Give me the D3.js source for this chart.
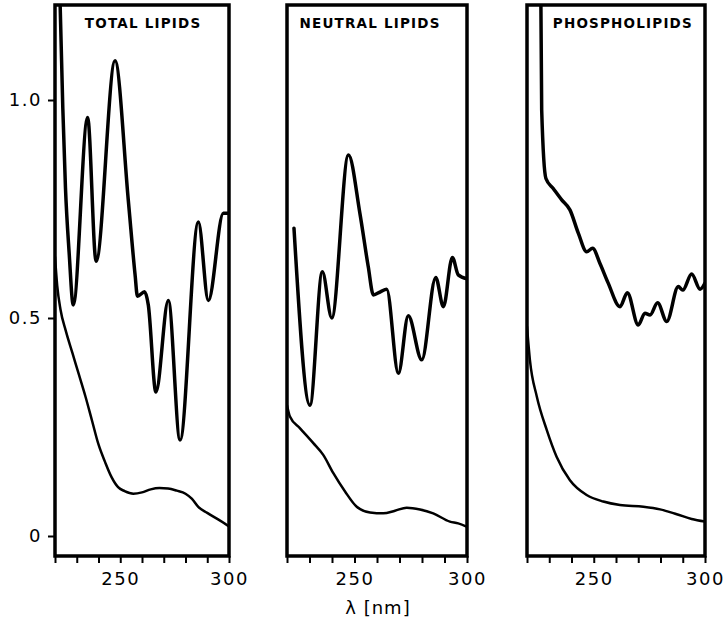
<!DOCTYPE html>
<html>
<head>
<meta charset="utf-8">
<script src="https://cdn.jsdelivr.net/npm/d3@7"></script>
<style>
  body { margin: 0; background: #fff; }
  .frame { fill: none; stroke: #000; stroke-width: 3.5; }
  .axis path { display: none; }
  .axis line { stroke: #000; stroke-width: 2; }
  .axis text { font-family: "DejaVu Sans", sans-serif; font-size: 18px; letter-spacing: 1.5px; fill: #000; }
  .upper { fill: none; stroke: #000; stroke-width: 3.5; stroke-linejoin: round; stroke-linecap: round; }
  .lower { fill: none; stroke: #000; stroke-width: 2.5; stroke-linejoin: round; stroke-linecap: round; }
  .title { font-family: "DejaVu Sans", sans-serif; font-weight: bold; font-size: 13.5px; letter-spacing: 1.2px; }
</style>
</head>
<body>
<svg width="725" height="629"></svg>
<script>
// wavelength ticks (nm), labelled ones and absorbance ticks
var wavelengthTicks = [220, 230, 240, 250, 260, 270, 280, 290, 300];
var labelledTicks = [250, 300];
var absorbanceTicks = [0, 0.5, 1.0];
var panelTitles = ["TOTAL LIPIDS", "NEUTRAL LIPIDS", "PHOSPHOLIPIDS"];

// [wavelength nm, absorbance]
var totalUpper = [[222.2, 1.25], [223.6, 0.98], [224.8, 0.80], [226.5, 0.65], [228.4, 0.53],
  [235.0, 0.96], [238.9, 0.63], [247.6, 1.09], [253.7, 0.77], [256.8, 0.60], [257.9, 0.55],
  [261.2, 0.56], [262.9, 0.53], [266.4, 0.33], [272.1, 0.54], [277.5, 0.22], [285.9, 0.72],
  [290.5, 0.54], [297.4, 0.74], [299.5, 0.74]];
var totalLower = [[220, 0.64], [221, 0.575], [222.5, 0.52], [225, 0.47], [228, 0.42], [231, 0.37],
  [234, 0.32], [237, 0.265], [240, 0.21], [243, 0.17], [246, 0.135], [249, 0.112], [252, 0.103],
  [256, 0.097], [260, 0.1], [264, 0.107], [268, 0.11], [272, 0.109], [276, 0.104], [280, 0.097],
  [283, 0.085], [286, 0.066], [290, 0.053], [295, 0.038], [300, 0.022]];

var neutralUpper = [[223.1, 0.706], [230.2, 0.30], [235.7, 0.606], [239.9, 0.50], [247.3, 0.874],
  [252.4, 0.74], [256.1, 0.618], [258.4, 0.553], [261.5, 0.56], [264.3, 0.566], [269.5, 0.373],
  [273.9, 0.505], [279.9, 0.404], [286.1, 0.593], [289.5, 0.526], [293.5, 0.639], [296.1, 0.599],
  [300, 0.59]];
var neutralLower = [[220, 0.30], [221.3, 0.274], [225.8, 0.247], [231.7, 0.213], [236.1, 0.186],
  [240.6, 0.144], [245.8, 0.102], [251.0, 0.067], [256.9, 0.054], [262.8, 0.052], [268.0, 0.058],
  [273.2, 0.065], [279.1, 0.061], [285.0, 0.052], [292.4, 0.033], [296.1, 0.029], [300, 0.021]];

var phosphoUpper = [[226.2, 1.25], [226.6, 0.977], [228.5, 0.82], [231.8, 0.797], [235.6, 0.771],
  [239.3, 0.748], [243.1, 0.694], [246.8, 0.652], [249.5, 0.66], [252.8, 0.625], [256.5, 0.58],
  [261.8, 0.526], [265.1, 0.558], [270.0, 0.484], [273.0, 0.511], [275.3, 0.507], [278.7, 0.535],
  [282.8, 0.492], [288.0, 0.572], [290.0, 0.564], [294.0, 0.601], [297.8, 0.566], [300, 0.58]];
var phosphoLower = [[220, 0.48], [221.3, 0.404], [224.4, 0.32], [228.9, 0.243], [233.3, 0.182],
  [239.3, 0.128], [246.8, 0.094], [254.3, 0.079], [261.8, 0.071], [272.3, 0.067], [279.8, 0.061],
  [287.3, 0.05], [294.0, 0.039], [300, 0.033]];

var svg = d3.select("svg"),
    plotTop = 5,
    plotBottom = 556,
    panelLeft = [55, 287, 527],
    panelRight = [229, 467, 705],
    titleAt = [260.5, 256.9, 263.1];

var y = d3.scaleLinear().domain([0, 1]).range([536, 100]);

var series = [[totalUpper, totalLower], [neutralUpper, neutralLower], [phosphoUpper, phosphoLower]];

var defs = svg.append("defs");

series.forEach(function(pair, i) {
  var x = d3.scaleLinear().domain([220, 300]).range([panelLeft[i], panelRight[i]]);

  defs.append("clipPath")
    .attr("id", "clip" + i)
    .append("rect")
    .attr("x", x.range()[0])
    .attr("y", plotTop)
    .attr("width", x.range()[1] - x.range()[0])
    .attr("height", plotBottom - plotTop);

  var line = d3.line()
    .curve(d3.curveMonotoneX)
    .x(function(d) { return x(d[0]); })
    .y(function(d) { return y(d[1]); });

  var g = svg.append("g");

  g.append("path")
    .attr("class", "upper")
    .attr("clip-path", "url(#clip" + i + ")")
    .attr("d", line(pair[0]));

  g.append("path")
    .attr("class", "lower")
    .attr("clip-path", "url(#clip" + i + ")")
    .attr("d", line(pair[1]));

  g.append("rect")
    .attr("class", "frame")
    .attr("x", x.range()[0])
    .attr("y", plotTop)
    .attr("width", x.range()[1] - x.range()[0])
    .attr("height", plotBottom - plotTop);

  g.append("g")
    .attr("class", "axis")
    .attr("transform", "translate(0," + plotBottom + ")")
    .call(d3.axisBottom(x)
      .tickValues(wavelengthTicks)
      .tickSize(7)
      .tickPadding(9)
      .tickFormat(function(d) { return labelledTicks.indexOf(d) >= 0 ? d : ""; }));

  g.append("text")
    .attr("class", "title")
    .attr("x", x(titleAt[i]))
    .attr("y", 28)
    .attr("text-anchor", "middle")
    .text(panelTitles[i]);

  if (i == 0) {
    g.append("g")
      .attr("class", "axis")
      .attr("transform", "translate(" + x.range()[0] + ",0)")
      .call(d3.axisLeft(y)
        .tickValues(absorbanceTicks)
        .tickSize(7)
        .tickPadding(6)
        .tickFormat(function(d) { return d == 0 ? "0" : d.toFixed(1); }));
  }
});

svg.append("text")
  .attr("x", 378)
  .attr("y", 614)
  .attr("text-anchor", "middle")
  .style("font-family", "DejaVu Sans, sans-serif")
  .style("font-size", "18px")
  .style("letter-spacing", "1px")
  .text("λ [nm]");
</script>
</body>
</html>
